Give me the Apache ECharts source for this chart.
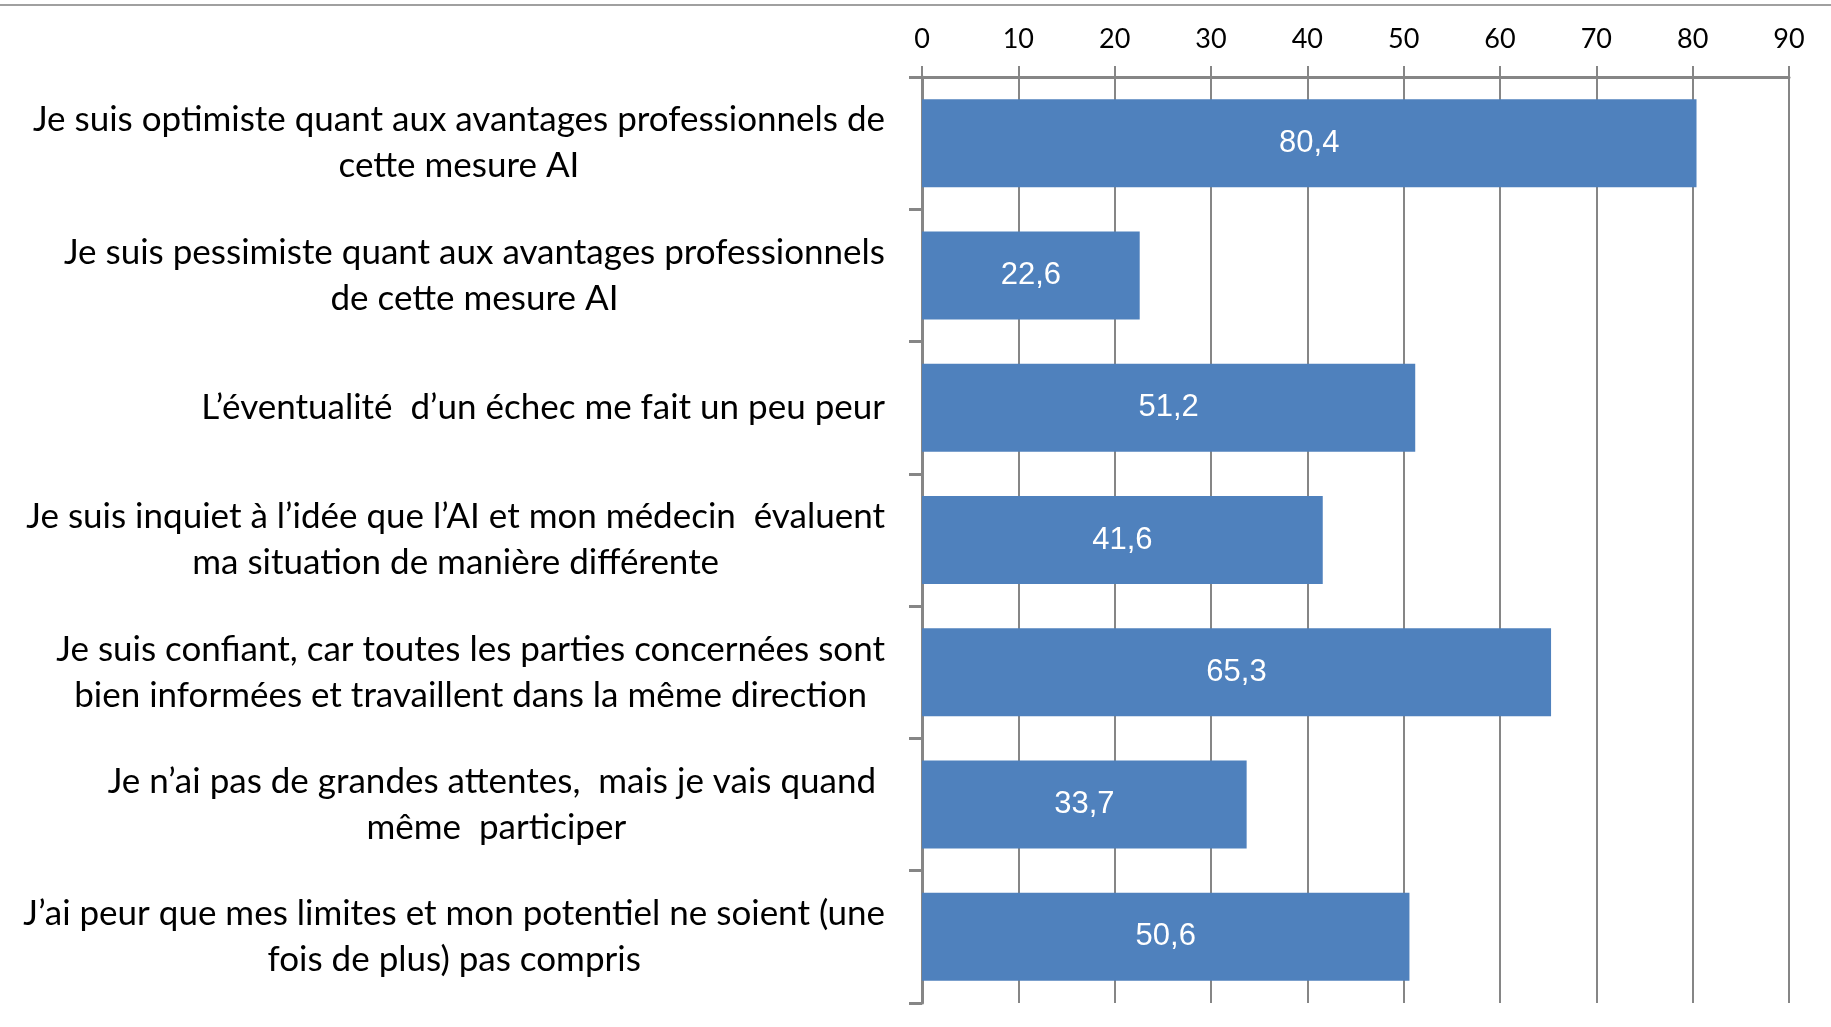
<!DOCTYPE html>
<html>
<head>
<meta charset="utf-8">
<script src="https://cdn.jsdelivr.net/npm/echarts@6/dist/echarts.min.js"></script>
<style>
html,body{margin:0;padding:0;background:#fff;}
#main{width:1831px;height:1027px;}
</style>
</head>
<body>
<div id="main"></div>
<script>
const categories = [
  "Je suis optimiste quant aux avantages professionnels de\ncette mesure AI",
  "Je suis pessimiste quant aux avantages professionnels\nde cette mesure AI",
  "L’éventualité  d’un échec me fait un peu peur",
  "Je suis inquiet à l’idée que l’AI et mon médecin  évaluent\nma situation de manière différente",
  "Je suis confiant, car toutes les parties concernées sont\nbien informées et travaillent dans la même direction",
  "Je n’ai pas de grandes attentes,  mais je vais quand \nmême  participer",
  "J’ai peur que mes limites et mon potentiel ne soient (une\nfois de plus) pas compris"
];
const values = [80.4, 22.6, 51.2, 41.6, 65.3, 33.7, 50.6];
const axisMin = 0, axisMax = 90, axisStep = 10;

const chart = echarts.init(document.getElementById('main'), null, {renderer: 'canvas'});
const axisColor = '#868686';
const option = {
  backgroundColor: '#ffffff',
  animation: false,
  graphic: [{
    type: 'rect', left: 0, top: 4, silent: true,
    shape: {width: 1831, height: 2},
    style: {fill: '#a0a0a0'}
  }],
  grid: {left: 922, right: 42, top: 77, bottom: 24, containLabel: false},
  xAxis: {
    type: 'value', position: 'top',
    min: axisMin, max: axisMax, interval: axisStep,
    axisLine: {show: true, onZero: false, lineStyle: {color: axisColor, width: 3}},
    axisTick: {show: true, length: 11, lineStyle: {color: axisColor, width: 2}},
    splitLine: {show: true, lineStyle: {color: axisColor, width: 2}},
    axisLabel: {color: '#000', fontFamily: 'Lato', fontSize: 27, margin: 24}
  },
  yAxis: {
    type: 'category', inverse: true, data: categories,
    axisLine: {show: true, lineStyle: {color: axisColor, width: 3}},
    axisTick: {show: true, length: 13, lineStyle: {color: axisColor, width: 3}},
    axisLabel: {
      color: '#000', fontFamily: 'Lato', fontSize: 35, margin: 37, align: 'right',
      lineHeight: 46,
      formatter: function (v) {
        return v.split('\n').map(function (l) { return '{c|' + l + '}'; }).join('\n');
      },
      rich: {c: {align: 'center', color: '#000', fontFamily: 'Lato', fontSize: 35, lineHeight: 46}}
    }
  },
  series: [{
    type: 'bar', data: values, barCategoryGap: '33.5%',
    itemStyle: {color: '#4F81BD'},
    label: {
      show: true, position: 'inside', color: '#fff',
      fontFamily: 'Liberation Sans', fontSize: 31,
      formatter: function (p) { return String(p.value).replace('.', ','); }
    }
  }]
};
chart.setOption(option);
</script>
</body>
</html>
